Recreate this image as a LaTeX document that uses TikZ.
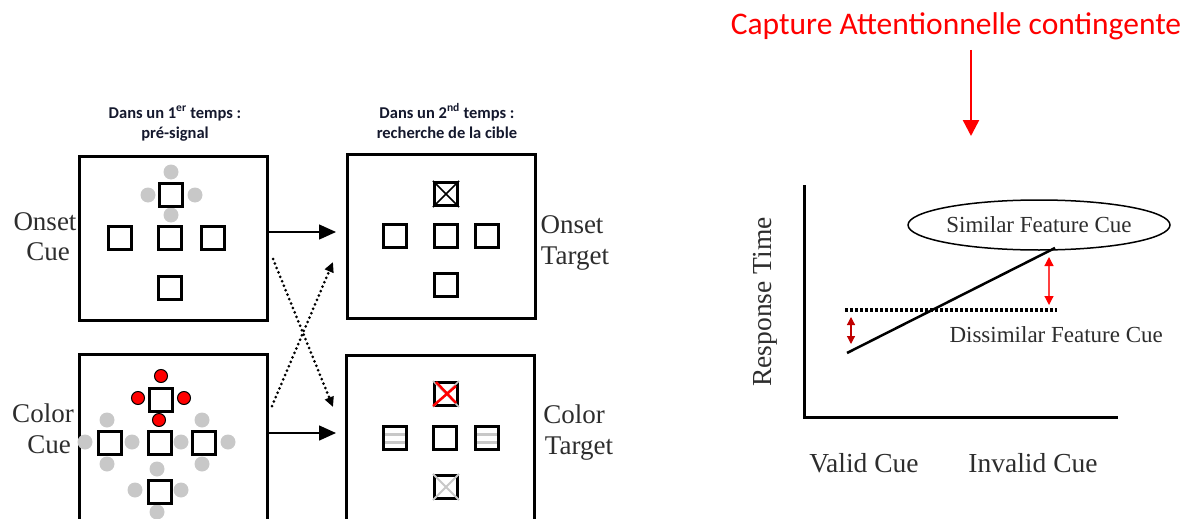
\documentclass[tikz,border=0pt]{standalone}
\usepackage{fontspec}
\setmainfont{Liberation Serif}
\newfontfamily\calfont{Carlito}
\usetikzlibrary{arrows.meta,shapes.geometric}
\definecolor{hdr}{RGB}{20,24,45}
\definecolor{lgray}{RGB}{200,200,200}
\definecolor{dred}{RGB}{192,0,0}
\definecolor{labc}{RGB}{45,45,45}
\begin{document}
\begin{tikzpicture}[x=1pt,y=-1pt,
 bigbox/.style={draw, line width=3, minimum width=188, minimum height=164, inner sep=0},
 sq/.style={draw, line width=3.2, minimum size=23, inner sep=0, fill=white},
 gdot/.style={circle, fill=lgray, minimum size=15, inner sep=0},
 rdot/.style={circle, fill=red, draw=black, line width=1, minimum size=13, inner sep=0},
 lab/.style={anchor=base, font=\fontsize{27}{30}\selectfont, text=labc},
 hd/.style={anchor=base, font=\calfont\bfseries\fontsize{16.5}{20}\selectfont, text=hdr},
 bigarrow/.style={-{Triangle[length=17,width=15]}, line width=1.5},
 dotarrow/.style={-{Triangle[length=10,width=9]}, line width=3, line cap=round, dash pattern=on 0 off 4.8},
 glab/.style={font=\fontsize{27.5}{30}\selectfont, text=labc},
 flab/.style={font=\fontsize{23}{26}\selectfont, text=labc},
 redarrow/.style={{Triangle[length=8,width=8]}-{Triangle[length=8,width=8]}, line width=1.2}
]
\useasboundingbox (0,0) rectangle (1192,519);
\clip (0,0) rectangle (1192,519);

% ---------- headers ----------
\node[hd] (h1a) at (175,118) {Dans un 1\textsuperscript{er} temps :};
\node[hd] (h1b) at (175,138) {pré-signal};
\node[hd] (h2a) at (447,118) {Dans un 2\textsuperscript{nd} temps :};
\node[hd] (h2b) at (447,138) {recherche de la cible};

% ---------- big boxes ----------
\node[bigbox] (b1) at (173.5,238.5) {};
\node[bigbox] (b2) at (441,236.5) {};
\node[bigbox, minimum height=168] (b3) at (173.5,438.5) {};
\node[bigbox, minimum height=168] (b4) at (440.5,439.5) {};

% ---------- box 1: onset cue ----------
\foreach \p/\n in {{171,172}/g1, {148,195}/g2, {195,195}/g3, {171,215}/g4}
  \node[gdot] (\n) at (\p) {};
\node[sq] (s1t) at (171,195) {};
\node[sq] (s1l) at (120,238) {};
\node[sq] (s1c) at (170,238) {};
\node[sq] (s1r) at (213,238) {};
\node[sq] (s1b) at (170,288) {};

% ---------- box 2: onset target ----------
\node[sq] (s2t) at (446,194) {};
\draw[line width=1.6] (s2t.north west) -- (s2t.south east) (s2t.north east) -- (s2t.south west);
\node[sq] (s2l) at (395,236) {};
\node[sq] (s2c) at (446,236) {};
\node[sq] (s2r) at (487,236) {};
\node[sq] (s2b) at (446,285) {};

% ---------- box 3: color cue ----------
\foreach \p/\n in {{107,420}/c1, {85,442}/c2, {132,442}/c3, {107,464}/c4,
                   {202,420}/c5, {181,442}/c6, {228,442}/c7, {202,464}/c8,
                   {157,469}/c9, {135,490}/c10, {181,490}/c11, {157,512}/c12}
  \node[gdot] (\n) at (\p) {};
\node[sq] (s3t) at (161,400) {};
\node[sq] (s3l) at (110,443) {};
\node[sq] (s3c) at (160,443) {};
\node[sq] (s3r) at (204,443) {};
\node[sq] (s3b) at (160,492) {};
\foreach \p/\n in {{161,376}/r1, {138,398}/r2, {184,398}/r3, {159,420}/r4}
  \node[rdot] (\n) at (\p) {};

% ---------- box 4: color target ----------
\node[sq] (s4t) at (446,394) {};
\draw[lgray, line width=1.5] (s4t.north west) -- (s4t.south east) (s4t.north east) -- (s4t.south west);
\draw[red, line width=2.5] ([shift={(-13,12)}]s4t.center) -- ([shift={(10,-8)}]s4t.center)
                           ([shift={(-10,-12)}]s4t.center) -- ([shift={(10,9)}]s4t.center);
\node[sq] (s4l) at (395,438) {};
\node[sq] (s4c) at (445,438) {};
\node[sq] (s4r) at (487,438) {};
\node[sq] (s4b) at (446,487) {};
\draw[lgray, line width=2] (s4b.north west) -- (s4b.south east) (s4b.north east) -- (s4b.south west);
\foreach \s in {s4l, s4r}{
  \draw[lgray, line width=3] ([shift={(-10,-4)}]\s.center) -- ([shift={(10,-4)}]\s.center)
                             ([shift={(-10,4)}]\s.center) -- ([shift={(10,4)}]\s.center);
}

% ---------- side labels ----------
\node[lab] (l1a) at (45,230) {Onset};
\node[lab] (l1b) at (48,260) {Cue};
\node[lab] (l3a) at (43,422) {Color};
\node[lab] (l3b) at (49,453) {Cue};
\node[lab] (l2a) at (572,233) {Onset};
\node[lab] (l2b) at (575,264) {Target};
\node[lab] (l4a) at (574,423) {Color};
\node[lab] (l4b) at (579,454) {Target};

% ---------- connectors ----------
\coordinate (a1s) at (266,232);
\coordinate (a1e) at (336,232);
\coordinate (a2s) at (266,433);
\coordinate (a2e) at (336,433);
\coordinate (d1s) at (273,259);
\coordinate (d1e) at (333,407);
\coordinate (d2s) at (272,406);
\coordinate (d2e) at (333,262);
\draw[bigarrow] (a1s) -- (a1e);
\draw[bigarrow] (a2s) -- (a2e);
\draw[dotarrow] (d1s) -- (d1e);
\draw[dotarrow] (d2s) -- (d2e);

% ---------- right side ----------
\node[anchor=base, text=red, font=\calfont\fontsize{31.5}{36}\selectfont] (title) at (956,35) {Capture Attentionnelle contingente};
\coordinate (ra) at (971,50);
\coordinate (rb) at (971,136);
\draw[red, line width=2.5, -{Triangle[length=16,width=16]}] (ra) -- (rb);

\coordinate (ytop) at (804,185);
\coordinate (orig) at (804,417);
\coordinate (xend) at (1118,417);
\draw[line width=3] (ytop) -- (orig) -- (xend);

\node[draw, ellipse, line width=1.5, minimum width=240, minimum height=50, inner sep=0, flab] (sim) at (1039,225) {Similar Feature Cue};

\coordinate (ls) at (847,353);
\coordinate (le) at (1055,248);
\draw[line width=2.5] (ls) -- (le);
\coordinate (ds) at (845,310);
\coordinate (de) at (1057,310);
\draw[line width=4, dash pattern=on 3 off 2] (ds) -- (de);

\coordinate (rr1) at (1049,257);
\coordinate (rr2) at (1049,305);
\draw[redarrow, red!75, {Triangle[length=9,width=9,red]}-{Triangle[length=9,width=9,red]}] (rr1) -- (rr2);
\coordinate (lr1) at (851,317);
\coordinate (lr2) at (851,344);
\draw[redarrow, dred] (lr1) -- (lr2);

\node[flab, anchor=base west] (dis) at (946,342) {Dissimilar Feature Cue};
\node[glab, rotate=90] (rt) at (765,302) {Response Time};
\node[glab, anchor=base] (vc) at (864,472) {Valid Cue};
\node[glab, anchor=base] (ic) at (1033,472) {Invalid Cue};
\end{tikzpicture}
\end{document}
